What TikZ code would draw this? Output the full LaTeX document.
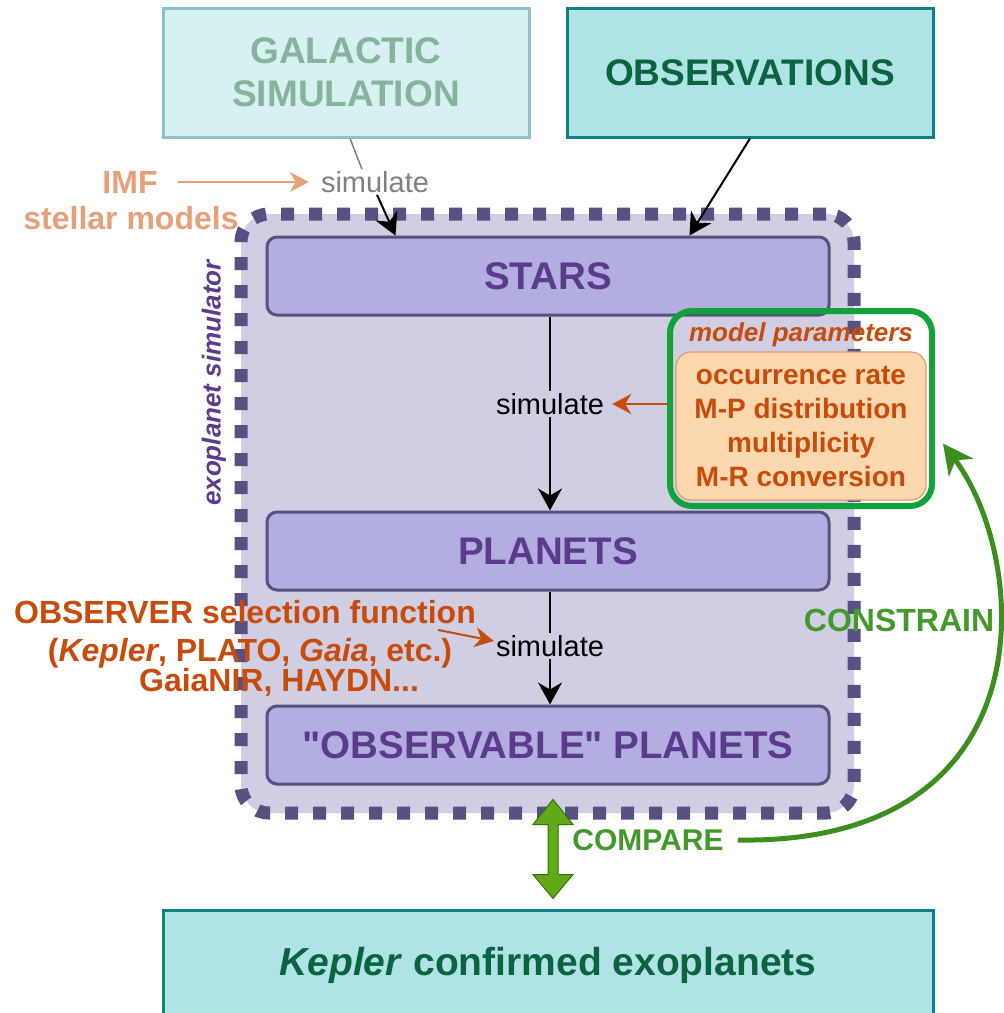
\documentclass[tikz,border=0pt]{standalone}
\usepackage{fontspec}
\setmainfont{Liberation Sans}
\newfontfamily\straightq{Liberation Sans}[Ligatures=TeXOff]
\usetikzlibrary{arrows.meta,calc}

\definecolor{tealfill}{HTML}{B0E3E6}
\definecolor{tealline}{HTML}{0E8088}
\definecolor{tealtext}{HTML}{0B6340}
\definecolor{galfill}{HTML}{D7F1F2}
\definecolor{galline}{HTML}{88C4C8}
\definecolor{galtext}{HTML}{86B39B}
\definecolor{simfill}{HTML}{D0CEE3}
\definecolor{simline}{HTML}{575082}
\definecolor{boxfill}{HTML}{B2AEDF}
\definecolor{boxline}{HTML}{56517E}
\definecolor{purpletext}{HTML}{5B3B8C}
\definecolor{ortext}{HTML}{C84B0C}
\definecolor{orfill}{HTML}{FAD7AC}
\definecolor{orline}{HTML}{D9A066}
\definecolor{mpgreen}{HTML}{12A23A}
\definecolor{imfcol}{HTML}{E8A07A}
\definecolor{simgrey}{HTML}{808080}
\definecolor{greentext}{HTML}{43992A}
\definecolor{curvegreen}{HTML}{3C8F1E}
\definecolor{arrowfill}{HTML}{60A917}
\definecolor{arrowline}{HTML}{2D7600}

\begin{document}
\begin{tikzpicture}[x=1pt,y=-1pt,
  tealbox/.style={draw=tealline, fill=tealfill, line width=3pt, text=tealtext,
    font=\bfseries\fontsize{37}{43}\selectfont, align=center,
    minimum width=366pt, inner sep=0pt},
  purplebox/.style={draw=boxline, fill=boxfill, line width=3pt, rounded corners=10pt,
    minimum width=562pt, minimum height=78pt, text=purpletext,
    font=\bfseries\fontsize{38.5}{44}\selectfont},
  simlabel/.style={font=\fontsize{29}{34}\selectfont, inner sep=2pt},
  link/.style={draw=black, line width=2pt, -{Stealth[length=22pt,width=24pt,inset=7pt]}},
  plain/.style={draw=black, line width=2pt},
  orarrow/.style={draw=ortext, line width=2pt, -{Stealth[length=19pt,width=20pt,inset=6pt]}},
  imflabel/.style={text=imfcol, font=\bfseries\fontsize{32}{38}\selectfont, inner sep=2pt},
  sellabel/.style={text=ortext, font=\bfseries\fontsize{32}{38}\selectfont, inner sep=2pt},
  greenlabel/.style={text=greentext, font=\bfseries\fontsize{32}{38}\selectfont, inner sep=2pt}
]
\useasboundingbox (0,0) rectangle (1004,1013);
\clip (0,0) rectangle (1004,1013);

% simulator frame
\node[draw=simline, fill=simfill, line width=13pt, dash pattern=on 13pt off 15pt,
      rounded corners=28pt, minimum width=613pt, minimum height=599pt] (sim) at (547.5,513.5) {};
\node[rotate=90, text=purpletext, font=\bfseries\itshape\fontsize{26}{31}\selectfont]
      (simname) at (214,383) {exoplanet simulator};

% input boxes
\node[tealbox, draw=galline, fill=galfill, text=galtext, minimum height=129pt] (gal) at (346,72.5) {GALACTIC\\SIMULATION};
\node[tealbox, minimum height=129pt] (obs) at (750,72.5) {OBSERVATIONS};

% stages of the simulator
\node[purplebox] (stars) at (548,276) {STARS};
\node[purplebox] (planets) at (548,551) {PLANETS};
\node[purplebox] (obp) at (548,745) {{\straightq"}OBSERVABLE{\straightq"} PLANETS};

% output box
\node[tealbox, minimum width=770pt, minimum height=110pt,
      font=\bfseries\fontsize{39}{45}\selectfont] (kep) at (548,965) {\textit{Kepler} confirmed exoplanets};

% model parameters
\node[draw=orline, fill=orfill, line width=1.2pt, rounded corners=15pt,
      minimum width=250pt, minimum height=148pt, text=ortext, align=center,
      font=\bfseries\fontsize{28}{34}\selectfont] (mpv) at (801,426)
      {occurrence rate\\M-P distribution\\multiplicity\\M-R conversion};
\node[draw=mpgreen, line width=6pt, rounded corners=22pt,
      minimum width=262pt, minimum height=195pt] (mp) at (801,408.5) {};
\node[text=ortext, font=\bfseries\itshape\fontsize{26}{31}\selectfont] (mptitle) at (801,335) {model parameters};

% simulate steps
\node[simlabel, text=simgrey] (s1) at (375,182) {simulate};
\node[simlabel] (s2) at (550,404) {simulate};
\node[simlabel] (s3) at (550,646) {simulate};

% inputs to the first step
\node[imflabel] (imf) at (130,182) {IMF};
\node[imflabel] (sm) at (131,218) {stellar models};
\draw[draw=imfcol, line width=2pt, -{Stealth[length=19pt,width=20pt,inset=6pt]}]
  ([xshift=18pt]imf.east) -- ([xshift=-10pt]s1.west);
\draw[draw=simgrey, line width=1.5pt] ([xshift=4pt]gal.south) -- ([xshift=-13pt]s1.north);
\draw[link] ([xshift=2pt]s1.south) -- ([xshift=130pt]stars.north west);
\draw[link] (obs.south) -- ([xshift=-141pt]stars.north east);

% chain of steps
\draw[plain] (stars.south -| s2.north) -- (s2.north);
\draw[link] (s2.south) -- (s2.south |- planets.north);
\draw[plain] (planets.south -| s3.north) -- (s3.north);
\draw[link] (s3.south) -- (s3.south |- obp.north);
\draw[orarrow, shorten >=6pt] (mp.west |- s2.east) -- (s2.east);

% observer selection function
\node[sellabel] (sel1) at (245,612) {OBSERVER selection function};
\node[sellabel] (sel2) at (250,653) {(\textit{Kepler}, PLATO, \textit{Gaia}, etc.)};
\node[sellabel] (sel3) at (279,682) {GaiaNIR, HAYDN...};
\draw[orarrow] ($(sel1.south east)+(-40,4)$) -- ([yshift=5pt]s3.west);

% comparison with the catalogue
\coordinate (ba) at ([xshift=5pt,yshift=-14pt]obp.south);
\coordinate (bb) at ([xshift=5pt,yshift=10pt]kep.north);
\draw[fill=arrowfill, draw=arrowline, line width=1pt]
  (ba) -- ++(20,25) -- ++(-15,0) -- ($(bb)+(5,-24)$) -- ++(15,0) -- (bb)
  -- ++(-20,-24) -- ++(15,0) -- ($(ba)+(-5,25)$) -- ++(-15,0) -- cycle;
\node[greenlabel, font=\bfseries\fontsize{30}{36}\selectfont] (compare) at (648,840) {COMPARE};
\node[greenlabel] (constrain) at (899,620) {CONSTRAIN};
\draw[draw=curvegreen, line width=5pt, -{Stealth[length=30pt,width=30pt,inset=9pt]}]
  ([xshift=12pt]compare.east) .. controls (1050,845) and (1030,560) .. ($(mp.east)+(8,35)$);
\end{tikzpicture}
\end{document}
